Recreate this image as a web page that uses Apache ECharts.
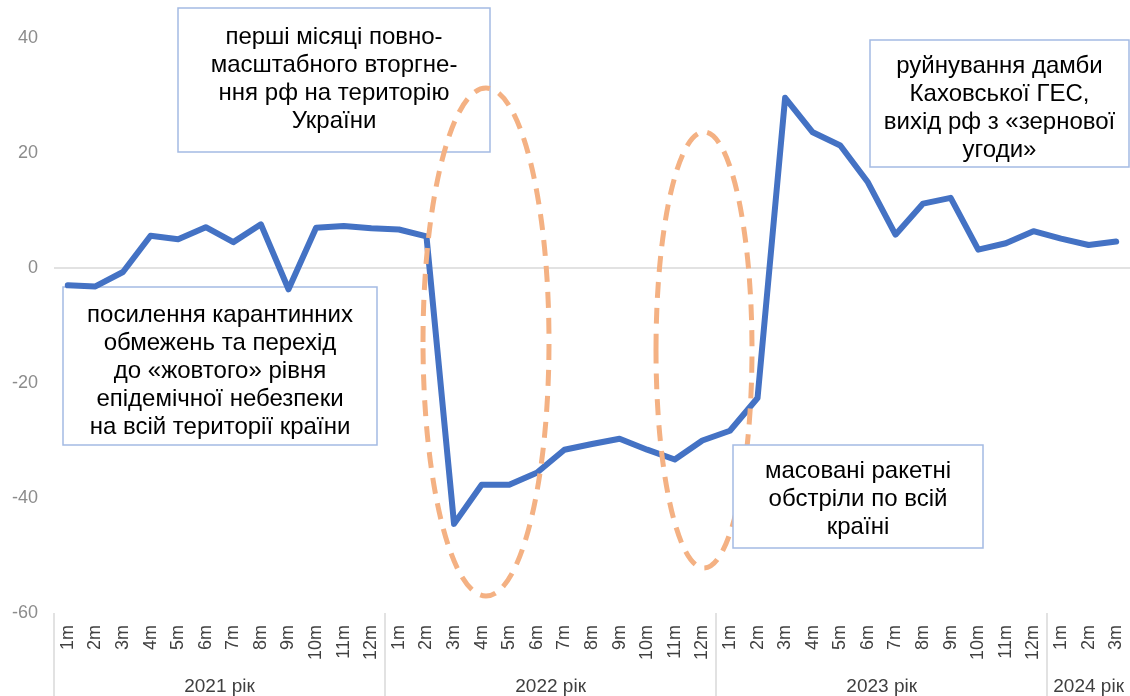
<!DOCTYPE html>
<html>
<head>
<meta charset="utf-8">
<script src="https://cdn.jsdelivr.net/npm/echarts@6/dist/echarts.min.js"></script>
<style>
  html, body { margin: 0; padding: 0; background: #fff; }
  #chart { width: 1130px; height: 696px; }
</style>
</head>
<body>
<div id="chart"></div>
<script>
  // років і місяців
  const years = ['2021 рік', '2022 рік', '2023 рік', '2024 рік']
  const monthsInYear = [12, 12, 12, 3]
  const monthLabels = ['1m', '2m', '3m', '4m', '5m', '6m', '7m', '8m', '9m', '10m', '11m', '12m']

  // значення по роках
  const values2021 = [-3.0, -3.2, -0.7, 5.6, 5.0, 7.1, 4.5, 7.6, -3.7, 7.0, 7.3, 6.9]
  const values2022 = [6.7, 5.5, -44.5, -37.7, -37.7, -35.6, -31.6, -30.6, -29.7, -31.6, -33.3, -30.0]
  const values2023 = [-28.3, -22.6, 29.6, 23.6, 21.3, 14.9, 5.8, 11.2, 12.2, 3.2, 4.3, 6.4]
  const values2024 = [5.1, 4.0, 4.6]

  const yTicks = { min: -60, max: 40, interval: 20 }

  const categories = []
  monthsInYear.forEach(n => {
    for (let i = 0; i < n; i++) categories.push(monthLabels[i])
  })
  const values = [].concat(values2021, values2022, values2023, values2024)

  // межі та центри груп для нижнього рівня підписів
  const bounds = [0]
  const centers = []
  monthsInYear.forEach(n => {
    const start = bounds[bounds.length - 1]
    centers.push(start + n / 2)
    bounds.push(start + n)
  })

  const font = 'Arial, "Liberation Sans", sans-serif'
  const boxBorder = '#a4bbe3'
  const ellipseColor = '#f4b183'

  function box(x, y, w, h, text, z, dy) {
    return [{
      type: 'rect',
      z: z,
      shape: { x: x, y: y, width: w, height: h },
      style: { fill: '#fff', stroke: boxBorder, lineWidth: 1.5 }
    }, {
      type: 'text',
      z: z + 1,
      x: x + w / 2,
      y: y + h / 2 + (dy || 0),
      style: {
        text: text,
        fill: '#000',
        fontFamily: font,
        fontSize: 24,
        lineHeight: 28,
        align: 'center',
        verticalAlign: 'middle'
      }
    }]
  }

  const graphics = [].concat(
    box(178, 8, 312, 144, 'перші місяці повно-\nмасштабного вторгне-\nння рф на територію\nУкраїни', 1, -1),
    box(63, 287, 314, 158, 'посилення карантинних\nобмежень та перехід\nдо «жовтого» рівня\nепідемічної небезпеки\nна всій території країни', 1, 5),
    box(870, 40, 259, 127, 'руйнування дамби\nКаховської ГЕС,\nвихід рф з «зернової\nугоди»', 1, 5),
    [{
      type: 'ellipse',
      z: 10,
      shape: { cx: 486, cy: 342, rx: 63, ry: 254 },
      style: { fill: 'none', stroke: ellipseColor, lineWidth: 5, lineDash: [16, 10] }
    }, {
      type: 'ellipse',
      z: 10,
      shape: { cx: 704, cy: 350, rx: 48, ry: 218 },
      style: { fill: 'none', stroke: ellipseColor, lineWidth: 5, lineDash: [16, 10] }
    }],
    box(733, 445, 250, 103, 'масовані ракетні\nобстріли по всій\nкраїні', 11, 3)
  )

  const chart = echarts.init(document.getElementById('chart'))
  chart.setOption({
    animation: false,
    grid: { left: 54, right: 0, top: 38, bottom: 83 },
    xAxis: [{
      type: 'category',
      data: categories,
      boundaryGap: true,
      axisLine: { show: false, onZero: false },
      axisTick: { show: false },
      axisLabel: {
        interval: 0,
        rotate: 90,
        margin: 12,
        color: '#404040',
        fontFamily: font,
        fontSize: 18
      }
    }, {
      type: 'value',
      min: 0,
      max: categories.length,
      position: 'bottom',
      axisLine: { show: false, onZero: false },
      splitLine: { show: false },
      axisTick: {
        show: true,
        customValues: bounds.slice(0, -1),
        length: 84,
        lineStyle: { color: '#d9d9d9', width: 1.5 }
      },
      axisLabel: {
        customValues: centers,
        margin: 64,
        color: '#404040',
        fontFamily: font,
        fontSize: 19,
        formatter: v => years[centers.indexOf(v)] || ''
      }
    }],
    yAxis: {
      type: 'value',
      min: yTicks.min,
      max: yTicks.max,
      interval: yTicks.interval,
      axisLine: { show: false },
      axisTick: { show: false },
      splitLine: { show: false },
      axisLabel: { color: '#8c8c8c', fontFamily: font, fontSize: 18, margin: 16 }
    },
    series: [{
      type: 'line',
      xAxisIndex: 0,
      data: values,
      symbol: 'none',
      z: 5,
      lineStyle: { color: '#4472c4', width: 6, cap: 'round', join: 'round' },
      markLine: {
        silent: true,
        symbol: 'none',
        label: { show: false },
        lineStyle: { color: '#d9d9d9', width: 1.5, type: 'solid' },
        data: [{ yAxis: 0 }]
      }
    }],
    graphic: graphics
  })
</script>
</body>
</html>
